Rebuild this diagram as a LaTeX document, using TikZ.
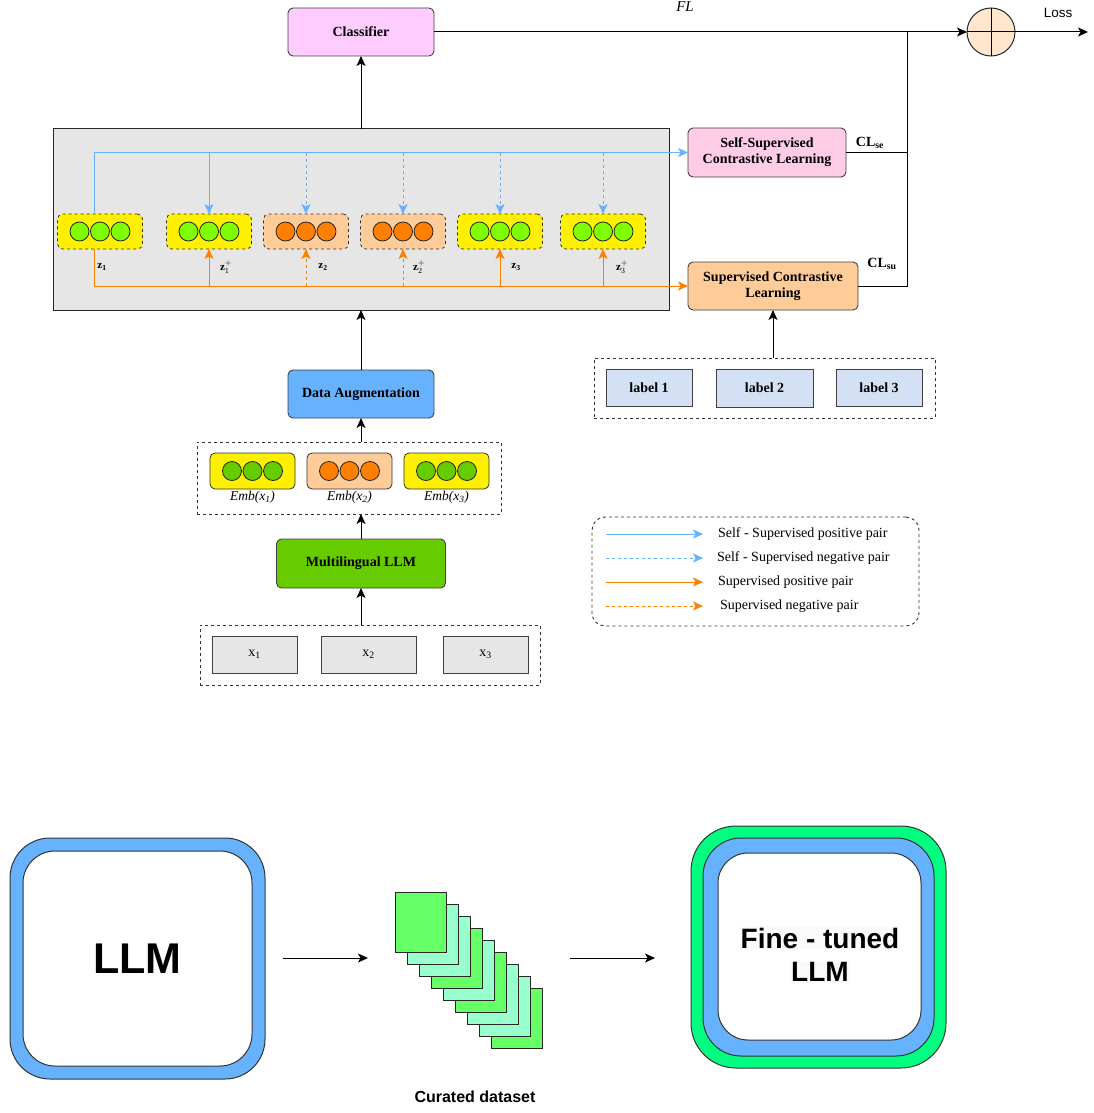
\documentclass[tikz,border=0pt]{standalone}
\usepackage{fontspec}
\setmainfont{Liberation Serif}
\newfontfamily\sansfnt{Liberation Sans}
\usetikzlibrary{arrows.meta,calc}

\definecolor{clsfill}{HTML}{FFCCFF}
\definecolor{ssclfill}{HTML}{FFCCE6}
\definecolor{peach}{HTML}{FFCC99}
\definecolor{panel}{HTML}{E6E6E6}
\definecolor{zyellow}{HTML}{FFF000}
\definecolor{lime}{HTML}{80FF00}
\definecolor{embgreen}{HTML}{66CC00}
\definecolor{dotorange}{HTML}{FF8000}
\definecolor{skyblue}{HTML}{66B2FF}
\definecolor{lblblue}{HTML}{D4E1F5}
\definecolor{sumfill}{HTML}{FFE6CC}
\definecolor{sheetgreen}{HTML}{66FF66}
\definecolor{sheetaqua}{HTML}{99FFCC}
\definecolor{springgreen}{HTML}{00FF80}

\begin{document}
\begin{tikzpicture}[x=1pt,y=-1pt,
  every node/.style={inner sep=0pt, outer sep=0pt},
  box/.style={draw=black!75, line width=0.9pt, rounded corners=5pt, align=center,
    font=\bfseries\fontsize{14}{15}\selectfont},
  plainbox/.style={draw=black!75, line width=1pt},
  grp/.style={draw=black!80, dashed, line width=0.9pt},
  zbox/.style={draw=black!80, dashed, line width=0.8pt, rounded corners=5pt,
    minimum width=85pt, minimum height=35pt},
  embbox/.style={draw=black!80, line width=0.8pt, rounded corners=5pt,
    minimum width=85pt, minimum height=36pt},
  dot/.style={circle, draw=black!85, line width=0.8pt, minimum size=19pt},
  tip/.style={-{Stealth[length=10pt,width=9pt,inset=2.5pt]}},
  conn/.style={line width=1pt, black},
  bl/.style={line width=1pt, skyblue},
  og/.style={line width=1pt, dotorange},
  lgtext/.style={anchor=west, font=\fontsize{14}{15}\selectfont},
  zlab/.style={font=\bfseries\fontsize{11}{12}\selectfont},
]
\useasboundingbox (0,0) rectangle (1093,1113);

% ---------- top: classifier and loss ----------
\node[box, fill=clsfill, minimum width=146pt, minimum height=48pt] (cls) at (361,32) {Classifier};
\node[circle, draw=black!85, line width=1pt, fill=sumfill, minimum size=48pt] (sum) at (991,32) {};
\draw[conn] (sum.north) -- (sum.south);
\draw[conn] (sum.west) -- (sum.east);
\coordinate (lossend) at (1088,32);
\coordinate (jn) at (907,32);
\draw[conn, tip] (cls.east) -- (sum.west);
\draw[conn, tip] (sum.east) -- (lossend);
\node[font=\itshape\fontsize{15}{16}\selectfont] (fl) at (685,7) {FL};
\node[font=\sansfnt\fontsize{13.5}{14}\selectfont] (loss) at (1058,13) {Loss};

% ---------- representation panel ----------
\node[draw=black!85, line width=1pt, fill=panel, minimum width=616pt, minimum height=181pt] (panel) at (361,219.5) {};
\draw[conn, tip] (panel.north) -- (cls.south);

\foreach \n/\x/\bx/\cc in {1/100/zyellow/lime, 2/209/zyellow/lime, 3/306/peach/dotorange,
                            4/403/peach/dotorange, 5/500/zyellow/lime, 6/603/zyellow/lime} {
  \node[zbox, fill=\bx] (z\n) at (\x,231.5) {};
  \foreach \k/\dx in {1/-20.5,2/0,3/20.5}
    \node[dot, fill=\cc] (z\n c\k) at (\x+\dx,231.5) {};
}

\node[zlab] (zl1) at (102,267) {z\textsubscript{1}};
\node[zlab] (zl2) at (226,267) {z$^{+}_{1}$};
\node[zlab] (zl3) at (323,267) {z\textsubscript{2}};
\node[zlab] (zl4) at (419,267) {z$^{+}_{2}$};
\node[zlab] (zl5) at (516,267) {z\textsubscript{3}};
\node[zlab] (zl6) at (622,267) {z$^{+}_{3}$};

% contrastive objectives
\node[box, fill=ssclfill, minimum width=158pt, minimum height=49pt] (sscl) at (767,152.5)
  {Self-Supervised\\[1pt]Contrastive Learning};
\node[box, fill=peach, minimum width=170pt, minimum height=48pt] (scl) at (773,286)
  {Supervised Contrastive\\[1pt]Learning};
\node[font=\bfseries\fontsize{14}{15}\selectfont] (clse) at (870,143) {CL\textsubscript{se}};
\node[font=\bfseries\fontsize{14}{15}\selectfont] (clsu) at (882,264) {CL\textsubscript{su}};
\draw[conn] (sscl.east) -- (sscl.east -| jn);
\draw[conn] (scl.east) -| (jn);

% self-supervised pairs (blue)
\draw[bl, tip] ([xshift=-6pt]z1.north) |- (sscl.west);
\draw[bl, tip] (z2.north |- sscl.west) -- (z2.north);
\foreach \n in {3,4,5,6}
  \draw[bl, dashed, tip] (z\n.north |- sscl.west) -- (z\n.north);

% supervised pairs (orange)
\draw[og, tip] ([xshift=-6pt]z1.south) |- (scl.west);
\foreach \n in {2,5,6}
  \draw[og, tip] (z\n.south |- scl.west) -- (z\n.south);
\foreach \n in {3,4}
  \draw[og, dashed, tip] (z\n.south |- scl.west) -- (z\n.south);

% labels
\node[grp, minimum width=341pt, minimum height=60pt] (lblgrp) at (764.5,388) {};
\node[plainbox, fill=lblblue, minimum width=86pt, minimum height=37pt, font=\bfseries\fontsize{14}{15}\selectfont] (lb1) at (649,387.5) {label 1};
\node[plainbox, fill=lblblue, minimum width=97pt, minimum height=38pt, font=\bfseries\fontsize{14}{15}\selectfont] (lb2) at (764.5,388) {label 2};
\node[plainbox, fill=lblblue, minimum width=86pt, minimum height=37pt, font=\bfseries\fontsize{14}{15}\selectfont] (lb3) at (879,387.5) {label 3};
\draw[conn, tip] (scl.south |- lblgrp.north) -- (scl.south);

% ---------- encoder pipeline ----------
\node[box, fill=skyblue, minimum width=146pt, minimum height=48pt] (da) at (361,394) {Data Augmentation};
\draw[conn, tip] (da.north) -- (panel.south);

\node[grp, minimum width=304pt, minimum height=72pt] (embgrp) at (349,478) {};
\foreach \n/\x/\bx/\cc in {1/252.5/zyellow/embgreen, 2/349.5/peach/dotorange, 3/446.5/zyellow/embgreen} {
  \node[embbox, fill=\bx] (e\n) at (\x,471) {};
  \foreach \k/\dx in {1/-20.5,2/0,3/20.5}
    \node[dot, fill=\cc] (e\n c\k) at (\x+\dx,471) {};
  \node[font=\itshape\fontsize{13.5}{14}\selectfont] (el\n) at (\x,497) {Emb(x\textsubscript{\n})};
}
\draw[conn, tip] (da.south |- embgrp.north) -- (da.south);

\node[box, fill=embgreen, minimum width=169pt, minimum height=49pt] (mllm) at (361,563.5) {Multilingual LLM};
\draw[conn, tip] (mllm.north) -- (mllm.north |- embgrp.south);

\node[grp, minimum width=340pt, minimum height=60pt] (xgrp) at (370,655) {};
\node[plainbox, fill=panel, minimum width=85pt, minimum height=37pt, font=\fontsize{14}{15}\selectfont] (x1) at (254.5,654.5) {x\textsubscript{1}};
\node[plainbox, fill=panel, minimum width=95pt, minimum height=37pt, font=\fontsize{14}{15}\selectfont] (x2) at (368.5,654.5) {x\textsubscript{2}};
\node[plainbox, fill=panel, minimum width=85pt, minimum height=37pt, font=\fontsize{14}{15}\selectfont] (x3) at (485.5,654.5) {x\textsubscript{3}};
\draw[conn, tip] (mllm.south |- xgrp.north) -- (mllm.south);

% ---------- legend ----------
\node[grp, rounded corners=13pt, minimum width=327pt, minimum height=109pt] (legend) at (755.5,571.5) {};
\coordinate (la1) at (606,534); \coordinate (lb1e) at (703,534);
\coordinate (la2) at (606,558); \coordinate (lb2e) at (703,558);
\coordinate (la3) at (606,582); \coordinate (lb3e) at (703,582);
\coordinate (la4) at (606,606); \coordinate (lb4e) at (703,606);
\draw[bl, tip] (la1) -- (lb1e);
\draw[bl, dashed, tip] (la2) -- (lb2e);
\draw[og, tip] (la3) -- (lb3e);
\draw[og, dashed, tip] (la4) -- (lb4e);
\node[lgtext] (lt1) at (718,534) {Self - Supervised positive pair};
\node[lgtext] (lt2) at (717,558) {Self - Supervised negative pair};
\node[lgtext] (lt3) at (718,582) {Supervised positive pair};
\node[lgtext] (lt4) at (720,606) {Supervised negative pair};

% ---------- fine-tuning overview ----------
\node[draw=black!80, line width=1pt, fill=skyblue, rounded corners=40pt, minimum width=255pt, minimum height=241pt] (llmout) at (137.5,958.5) {};
\node[draw=black!80, line width=1pt, fill=white, rounded corners=32pt, minimum width=229pt, minimum height=215pt,
  font=\sansfnt\bfseries\fontsize{43}{46}\selectfont] (llm) at (137.5,958.5) {LLM};

\foreach \i in {8,...,0} {
  \ifcase\i \def\sc{sheetgreen}\or \def\sc{sheetaqua}\or \def\sc{sheetaqua}\or \def\sc{sheetgreen}\or
    \def\sc{sheetaqua}\or \def\sc{sheetgreen}\or \def\sc{sheetaqua}\or \def\sc{sheetaqua}\or \def\sc{sheetgreen}\fi
  \node[draw=black!85, line width=1pt, fill=\sc, minimum width=51pt, minimum height=60pt] (sheet\i) at (420.5+12*\i,922+12*\i) {};
}
\node[font=\sansfnt\bfseries\fontsize{16}{18}\selectfont] (curated) at (475,1097) {Curated dataset};

\node[draw=black!80, line width=1pt, fill=springgreen, rounded corners=45pt, minimum width=255pt, minimum height=242pt] (ftout) at (818.5,947) {};
\node[draw=black!80, line width=1pt, fill=skyblue, rounded corners=38pt, minimum width=231pt, minimum height=218pt] (ftmid) at (818.5,947) {};
\node[draw=black!80, line width=1pt, fill=white, rounded corners=30pt, minimum width=203pt, minimum height=187pt] (ftin) at (819.5,946.5) {};
\node[fill=black!2, inner sep=1pt, font=\sansfnt\bfseries\fontsize{28}{30}\selectfont] (ft1) at (820,938) {Fine - tuned};
\node[fill=black!2, inner sep=1pt, font=\sansfnt\bfseries\fontsize{28}{30}\selectfont] (ft2) at (820,972) {LLM};

% flow arrows between the three stages
\coordinate (f1s) at (283,958); \coordinate (f1e) at (368,958);
\coordinate (f2s) at (570,958); \coordinate (f2e) at (655,958);
\draw[conn, tip] (f1s) -- (f1e);
\draw[conn, tip] (f2s) -- (f2e);
\end{tikzpicture}
\end{document}
